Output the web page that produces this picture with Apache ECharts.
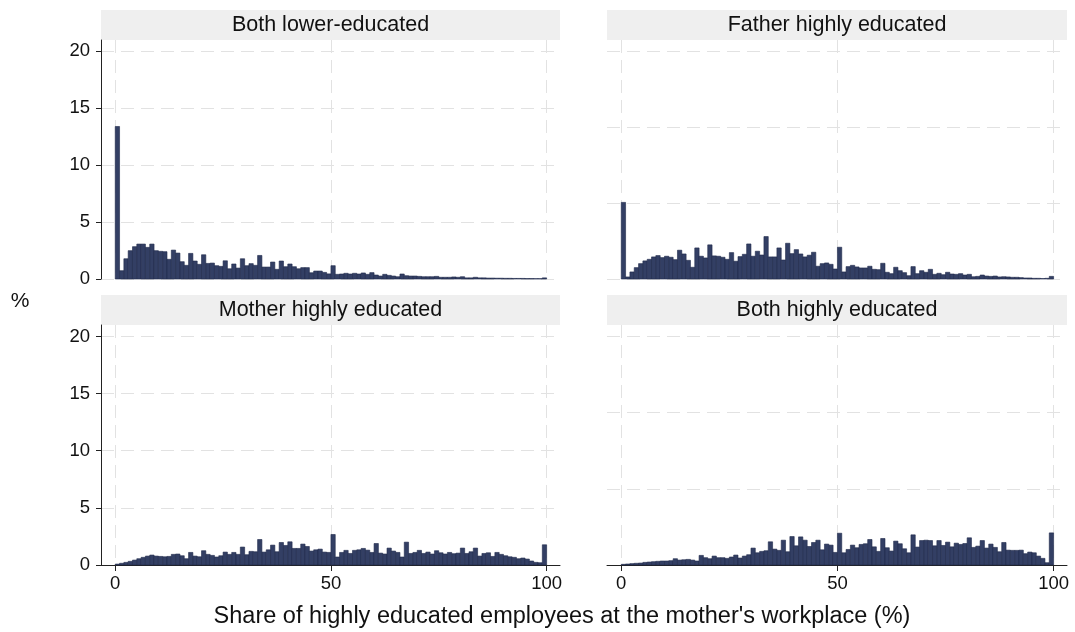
<!DOCTYPE html>
<html>
<head>
<meta charset="utf-8">
<script src="https://cdn.jsdelivr.net/npm/echarts@6/dist/echarts.min.js"></script>
<style>
html,body{margin:0;padding:0;background:#fff;}
#chart{width:1075px;height:632px;}
</style>
</head>
<body>
<div id="chart"></div>
<script>
// ---- data ----
var panelTitles = ["Both lower-educated", "Father highly educated", "Mother highly educated", "Both highly educated"];
var xTickValues = [0, 50, 100];
var yTickValues = [0, 5, 10, 15, 20];
var yTickValuesRight = [0, 20 / 3, 40 / 3, 20];
var xTitle = "Share of highly educated employees at the mother's workplace (%)";
var yTitle = "%";
var binWidth = 1;

var bothLower = [13.4, 0.73, 1.78, 2.49, 2.84, 3.07, 3.07, 2.78, 3.07, 2.49, 2.43, 2.4, 1.73, 2.54, 2.28, 1.52, 1.2, 2.25, 1.58, 1.29,
  2.13, 1.37, 1.4, 1.17, 1.11, 1.6, 0.9, 1.32, 0.96, 1.78, 1.17, 1.35, 1.2, 2.07, 1.05, 1.05, 1.49, 0.85, 1.58, 1.08,
  1.32, 1.08, 0.9, 1.0, 1.0, 0.55, 0.7, 0.7, 0.58, 0.45,
  1.17, 0.41, 0.44, 0.5, 0.44, 0.5, 0.44, 0.53, 0.41, 0.56, 0.35, 0.26, 0.41, 0.32, 0.26, 0.2, 0.44, 0.29, 0.26, 0.26,
  0.23, 0.2, 0.2, 0.2, 0.23, 0.15, 0.15, 0.15, 0.18, 0.15, 0.2, 0.1, 0.1, 0.15, 0.1, 0.1, 0.08, 0.08, 0.07, 0.07,
  0.06, 0.06, 0.05, 0.05, 0.05, 0.04, 0.04, 0.03, 0.03, 0.1];

var fatherHigh = [6.73, 0.18, 0.62, 1.0, 1.35, 1.59, 1.73, 1.94, 2.06, 1.88, 2.0, 1.91, 1.7, 2.53, 2.2, 1.64, 1.03, 2.73, 2.0, 1.85,
  3.0, 2.03, 2.0, 1.91, 1.73, 2.32, 1.56, 1.97, 2.17, 3.08, 2.0, 2.44, 2.11, 3.73, 1.94, 1.94, 2.73, 1.67, 3.14, 2.23,
  2.58, 2.2, 1.94, 2.09, 2.35, 1.12, 1.35, 1.41, 1.29, 0.88,
  2.79, 0.62, 1.09, 1.2, 1.06, 0.97, 0.97, 1.12, 0.85, 0.82, 1.38, 0.59, 0.47, 1.03, 0.73, 0.56, 0.29, 1.09, 0.47, 0.73,
  0.59, 0.85, 0.41, 0.5, 0.38, 0.59, 0.44, 0.41, 0.47, 0.35, 0.41, 0.2, 0.23, 0.35, 0.26, 0.23, 0.26, 0.18, 0.2, 0.18,
  0.15, 0.15, 0.12, 0.09, 0.09, 0.06, 0.06, 0.04, 0.06, 0.23];

var motherHigh = [0.08, 0.15, 0.23, 0.32, 0.43, 0.55, 0.67, 0.78, 0.87, 0.78, 0.75, 0.72, 0.75, 0.93, 0.96, 0.81, 0.55, 1.1, 0.78, 0.72,
  1.25, 0.93, 0.84, 0.7, 0.81, 1.13, 0.93, 1.1, 0.93, 1.57, 0.9, 1.19, 1.16, 2.23, 1.13, 1.33, 1.74, 1.16, 1.97, 1.71,
  2.03, 1.45, 1.45, 1.83, 1.62, 1.22, 1.33, 1.39, 1.13, 1.1,
  2.67, 0.7, 1.1, 1.28, 1.01, 1.28, 1.33, 1.45, 1.3, 1.1, 1.88, 1.04, 0.96, 1.48, 1.22, 1.1, 0.7, 2.0, 1.01, 1.1,
  1.28, 1.01, 1.13, 0.96, 1.25, 1.07, 0.96, 1.1, 0.99, 1.04, 1.48, 1.01, 1.16, 1.48, 0.78, 1.01, 1.07, 0.75, 1.1, 0.93,
  0.81, 0.72, 0.67, 0.55, 0.61, 0.52, 0.35, 0.23, 0.2, 1.77];

var bothHigh = [0.06, 0.09, 0.12, 0.15, 0.17, 0.23, 0.26, 0.29, 0.32, 0.35, 0.35, 0.38, 0.55, 0.43, 0.46, 0.49, 0.43, 0.35, 0.84, 0.64,
  0.55, 0.78, 0.64, 0.64, 0.58, 0.7, 0.87, 0.61, 0.78, 0.9, 1.48, 1.07, 1.19, 1.25, 2.03, 1.39, 1.28, 2.17, 1.16, 2.49,
  1.68, 2.46, 2.17, 1.62, 1.97, 2.17, 1.33, 1.83, 1.74, 1.1,
  2.78, 1.07, 1.36, 1.74, 1.51, 1.8, 1.86, 2.23, 1.59, 1.19, 2.32, 1.51, 1.22, 2.09, 1.86, 1.42, 1.07, 2.64, 1.57, 2.14,
  2.17, 2.14, 1.68, 2.14, 1.71, 2.0, 1.59, 1.91, 1.8, 1.88, 2.38, 1.54, 1.65, 2.14, 1.48, 1.83, 1.54, 1.16, 1.97, 1.3,
  1.28, 1.28, 1.3, 0.99, 1.13, 1.07, 0.78, 0.58, 0.2, 2.81];

var panelValues = [bothLower, fatherHigh, motherHigh, bothHigh];

// ---- layout ----
var FONT = "'Liberation Sans', Arial, Helvetica, sans-serif";
var grids = [
  {left: 101, top: 40, width: 459, height: 239},
  {left: 607, top: 40, width: 460, height: 239},
  {left: 101, top: 325, width: 459, height: 240},
  {left: 607, top: 325, width: 460, height: 240}
];
var gridColor = '#e2e2e2';
var barFill = '#333f64';
var barStroke = '#1f2949';

function toBins(vals) {
  return vals.map(function (v, i) { return [i * binWidth, (i + 1) * binWidth, v]; });
}

var xAxes = [], yAxes = [], series = [], graphics = [];
grids.forEach(function (g, i) {
  var bottom = i >= 2, left = (i % 2 === 0);
  xAxes.push({
    type: 'value', gridIndex: i, min: -3.3, max: 103.1,
    axisLine: {show: bottom, onZero: false, lineStyle: {color: '#222', width: 1}},
    axisTick: {show: bottom, customValues: xTickValues, length: 6, lineStyle: {color: '#222'}},
    axisLabel: {show: bottom, customValues: xTickValues, margin: 9, color: '#111', fontSize: 18.5, fontFamily: FONT},
    splitLine: {show: true, lineStyle: {color: gridColor, type: [13, 7], width: 1}}
  });
  yAxes.push({
    type: 'value', gridIndex: i, min: 0, max: 21,
    axisLine: {show: left, onZero: false, lineStyle: {color: '#222', width: 1}},
    axisTick: {show: left, customValues: left ? yTickValues : yTickValuesRight, length: 5, lineStyle: {color: '#222'}},
    axisLabel: {show: left, customValues: left ? yTickValues : yTickValuesRight, margin: 11, color: '#111', fontSize: 18.5, fontFamily: FONT},
    splitLine: {show: true, lineStyle: {color: gridColor, type: [13, 7], width: 1}}
  });
  series.push({
    type: 'custom', xAxisIndex: i, yAxisIndex: i,
    data: toBins(panelValues[i]),
    encode: {x: [0, 1], y: 2},
    renderItem: function (params, api) {
      var p0 = api.coord([api.value(0), 0]);
      var p1 = api.coord([api.value(1), api.value(2)]);
      return {
        type: 'rect',
        shape: {x: p0[0], y: p1[1], width: p1[0] - p0[0], height: p0[1] - p1[1]},
        style: {fill: barFill, stroke: barStroke, lineWidth: 0.6}
      };
    },
    silent: true, animation: false
  });
  graphics.push({
    type: 'rect', left: g.left, top: g.top - 30,
    shape: {width: g.width, height: 30},
    style: {fill: '#efefef'}
  });
  graphics.push({
    type: 'text', x: g.left + g.width / 2, y: g.top - 15,
    style: {text: panelTitles[i], fill: '#111', font: '21.5px ' + FONT, textAlign: 'center', textVerticalAlign: 'middle'}
  });
});
graphics.push({
  type: 'text', x: 20, y: 301,
  style: {text: yTitle, fill: '#111', font: '21px ' + FONT, textAlign: 'center', textVerticalAlign: 'middle'}
});
graphics.push({
  type: 'text', x: 562, y: 617,
  style: {text: xTitle, fill: '#111', font: '23.5px ' + FONT, textAlign: 'center', textVerticalAlign: 'middle'}
});

var chart = echarts.init(document.getElementById('chart'), null, {renderer: 'canvas'});
chart.setOption({
  backgroundColor: '#fff',
  animation: false,
  grid: grids,
  xAxis: xAxes,
  yAxis: yAxes,
  series: series,
  graphic: graphics
});
</script>
</body>
</html>
